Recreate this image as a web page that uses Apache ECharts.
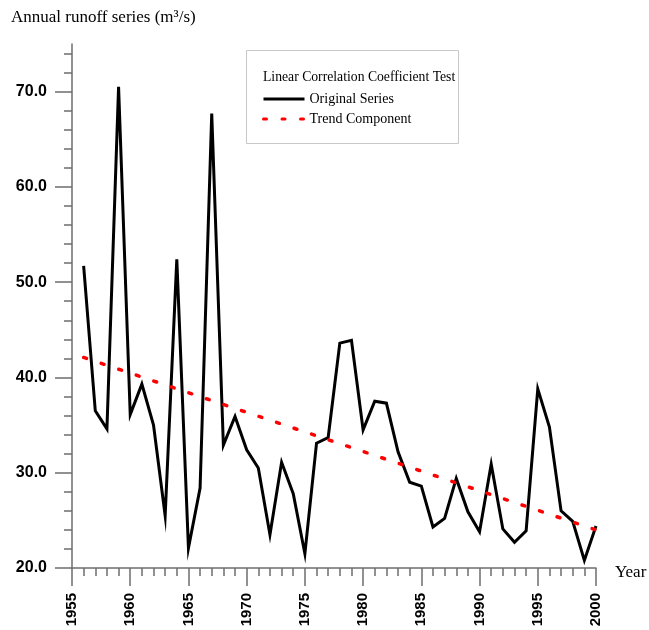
<!DOCTYPE html>
<html>
<head>
<meta charset="utf-8">
<script src="https://cdn.jsdelivr.net/npm/echarts@6/dist/echarts.min.js"></script>
<style>html,body{margin:0;padding:0;background:#fff}#c{width:649px;height:630px}</style>
</head>
<body>
<div id="c"></div>
<script>
var years = [1956,1957,1958,1959,1960,1961,1962,1963,1964,1965,1966,1967,1968,1969,1970,1971,1972,1973,1974,1975,1976,1977,1978,1979,1980,1981,1982,1983,1984,1985,1986,1987,1988,1989,1990,1991,1992,1993,1994,1995,1996,1997,1998,1999,2000];
var runoff = [51.7,36.5,34.6,70.5,36.1,39.3,35.0,25.5,52.4,22.1,28.4,67.7,32.9,35.9,32.4,30.5,23.5,31.1,27.8,21.5,33.1,33.7,43.6,43.9,34.5,37.5,37.3,32.2,29.0,28.6,24.3,25.2,29.4,25.9,23.8,30.9,24.1,22.7,23.9,38.8,34.8,26.0,24.9,20.8,24.4];
var trendYears = [1956, 2000];
var trendValues = [42.1, 24.0];
var yMajorTicks = [20,30,40,50,60,70];
var yMinorTicks = [22,24,26,28,32,34,36,38,42,44,46,48,52,54,56,58,62,64,66,68,72,74];
var seriesNames = ['Original Series','Trend Component'];
var legendTitle = 'Linear Correlation Coefficient Test';
var yTitle = 'Annual runoff series (m\u00b3/s)';
var xTitle = 'Year';

var chart = echarts.init(document.getElementById('c'));
var axisColor = '#6e6e6e';
var serif = '"Liberation Serif", "Times New Roman", serif';
var sans = '"Liberation Sans", Arial, sans-serif';
chart.setOption({
  animation: false,
  backgroundColor: '#fff',
  grid: {left: 72, right: 53, top: 44, bottom: 62, containLabel: false},
  xAxis: {
    type: 'value', min: 1955, max: 2000, interval: 5,
    axisLine: {lineStyle: {color: axisColor, width: 1.5}},
    axisTick: {length: 18, lineStyle: {color: axisColor, width: 1.5}},
    minorTick: {show: true, splitNumber: 5, length: 8, lineStyle: {color: axisColor, width: 1.5}},
    splitLine: {show: false},
    axisLabel: {rotate: 90, margin: 25, fontSize: 15, fontWeight: 'bold', fontFamily: sans, color: '#000',
      formatter: function (v) { return String(v); }}
  },
  yAxis: [{
    type: 'value', min: 20, max: 75,
    axisLine: {show: true, lineStyle: {color: axisColor, width: 1.5}},
    axisTick: {show: true, length: 17, customValues: yMajorTicks, lineStyle: {color: axisColor, width: 1.5}},
    splitLine: {show: false},
    axisLabel: {customValues: yMajorTicks, margin: 25, fontSize: 16, fontWeight: 'bold', fontFamily: sans, color: '#000',
      formatter: function (v) { return v.toFixed(1); }}
  }, {
    type: 'value', min: 20, max: 75, position: 'left',
    axisLine: {show: false},
    axisTick: {show: true, length: 8, customValues: yMinorTicks, lineStyle: {color: axisColor, width: 1.5}},
    splitLine: {show: false},
    axisLabel: {show: false}
  }],
  legend: {
    data: seriesNames, orient: 'vertical', left: 257, top: 87,
    itemWidth: 41, itemHeight: 14, itemGap: 6,
    itemStyle: {opacity: 0},
    lineStyle: {width: 3},
    textStyle: {fontFamily: serif, fontSize: 14, color: '#000'}
  },
  graphic: [
    {type: 'rect', left: 246, top: 50, shape: {width: 212, height: 93}, style: {fill: '#fff', stroke: '#c8c8c8', lineWidth: 1}, z: -1},
    {type: 'text', left: 263, top: 70, style: {text: legendTitle, font: '13.7px ' + serif, fill: '#000'}},
    {type: 'text', left: 11, top: 9, style: {text: yTitle, font: '17px ' + serif, fill: '#000'}},
    {type: 'text', left: 615, top: 564, style: {text: xTitle, font: '17px ' + serif, fill: '#000'}}
  ],
  series: [{
    name: seriesNames[0], type: 'line', yAxisIndex: 0,
    data: years.map(function (y, i) { return [y, runoff[i]]; }),
    symbol: 'none', showSymbol: false,
    lineStyle: {color: '#000', width: 3, join: 'miter', miterLimit: 20},
    itemStyle: {color: '#000'}, z: 3
  }, {
    name: seriesNames[1], type: 'line', yAxisIndex: 0,
    data: trendYears.map(function (y, i) { return [y, trendValues[i]]; }),
    symbol: 'none', showSymbol: false,
    lineStyle: {color: '#ff0000', width: 3.5, type: [3, 15.5], cap: 'round'},
    itemStyle: {color: '#ff0000'}, z: 4
  }]
});
</script>
</body>
</html>
